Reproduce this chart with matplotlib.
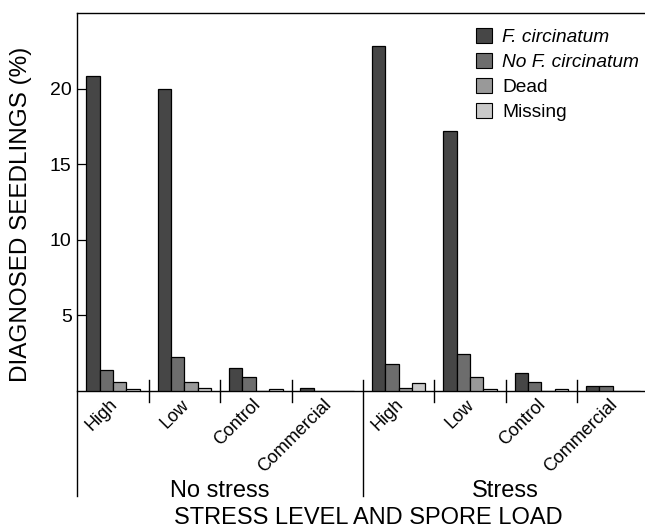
import matplotlib
matplotlib.use("Agg")
import matplotlib.pyplot as plt
from matplotlib.patches import Patch
import matplotlib.transforms as mtransforms
import numpy as np

plt.rcParams['font.family'] = ['Liberation Sans', 'DejaVu Sans']

# ---- data ----
stress_levels = ["No stress", "Stress"]
spore_loads = ["High", "Low", "Control", "Commercial"]
series_names = ["F. circinatum", "No F. circinatum", "Dead", "Missing"]
f_circinatum = [20.8, 20.0, 1.5, 0.2, 22.8, 17.2, 1.2, 0.3]
no_f_circinatum = [1.4, 2.2, 0.9, 0.0, 1.8, 2.4, 0.6, 0.3]
dead = [0.6, 0.6, 0.0, 0.0, 0.2, 0.9, 0.0, 0.0]
missing = [0.1, 0.2, 0.1, 0.0, 0.5, 0.1, 0.1, 0.0]
yticks = [5, 10, 15, 20]

colors = ["#464646", "#6d6d6d", "#999999", "#c9c9c9"]
series = [f_circinatum, no_f_circinatum, dead, missing]

W, H = 645, 530
fig = plt.figure(figsize=(W / 100, H / 100), dpi=100)
ax_left, ax_right = 77.3, 648.5
ax_top, ax_bot = 13.0, 390.7
ax = fig.add_axes([ax_left / W, 1 - ax_bot / H, (ax_right - ax_left) / W, (ax_bot - ax_top) / H])

n_groups = len(stress_levels) * len(spore_loads)
x = np.arange(n_groups)
bw = 0.1875
for j, (vals, c, name) in enumerate(zip(series, colors, series_names)):
    ax.bar(x + (j - 1.5) * bw, vals, width=bw, color=c, edgecolor="black",
           linewidth=0.9, label=name, zorder=3)

ax.set_xlim(-0.5, n_groups - 0.5)
ax.set_ylim(0, 25)
ax.set_yticks(yticks)
ax.set_yticklabels([str(t) for t in yticks])
ax.tick_params(axis="y", direction="in", length=7, width=0.9, labelsize=14, pad=4)
ax.set_xticks([])
ax.spines["right"].set_visible(False)
for s in ["left", "top", "bottom"]:
    ax.spines[s].set_linewidth(1.0)
ax.spines["left"].set_visible(False)

trans = mtransforms.blended_transform_factory(ax.transData, ax.transAxes)
px = 1.0 / (ax_bot - ax_top)  # axes fraction per pixel vertically
# left axis line extended downward
ax.plot([-0.5, -0.5], [1, -(496 - ax_bot) * px], color="black", lw=1.0,
        transform=trans, clip_on=False, zorder=5)
# group separators
for b in [0.5, 1.5, 2.5, 4.5, 5.5, 6.5]:
    ax.plot([b, b], [(ax_bot - 380) * px, -(402 - ax_bot) * px], color="black",
            lw=1.0, transform=trans, clip_on=False, zorder=5)
ax.plot([3.5, 3.5], [(ax_bot - 380) * px, -(496 - ax_bot) * px], color="black",
        lw=1.0, transform=trans, clip_on=False, zorder=5)

# rotated category labels
offset = mtransforms.ScaledTranslation(8 / 100, 0, fig.dpi_scale_trans)
for i in range(n_groups):
    lab = spore_loads[i % len(spore_loads)]
    ax.text(i, -(396 - ax_bot) * px, lab, rotation=45, ha="right", va="top",
            fontsize=13, transform=trans + offset)

# stress level labels
for k, lvl in enumerate(stress_levels):
    cx = k * len(spore_loads) + (len(spore_loads) - 1) / 2
    ax.text(cx, -(497 - ax_bot) * px, lvl, ha="center", va="baseline",
            fontsize=17, transform=trans)

fig.text(368 / W, 1 - 524 / H, "STRESS LEVEL AND SPORE LOAD", ha="center",
         va="baseline", fontsize=17)
fig.text(21 / W, 1 - 214 / H, "DIAGNOSED SEEDLINGS (%)", rotation=90,
         ha="center", va="center", fontsize=17.5)

handles = [Patch(facecolor=c, edgecolor="black", linewidth=0.8) for c in colors]
leg = ax.legend(handles, series_names, loc="upper left",
                bbox_to_anchor=(476 / W, 1 - 28 / H), bbox_transform=fig.transFigure,
                frameon=False, fontsize=13.8, handlelength=0.82, handleheight=0.8,
                handletextpad=0.55, labelspacing=0.37, borderpad=0, borderaxespad=0)
for t in leg.get_texts()[:2]:
    t.set_style("italic")

fig.savefig("out.png", dpi=100)
